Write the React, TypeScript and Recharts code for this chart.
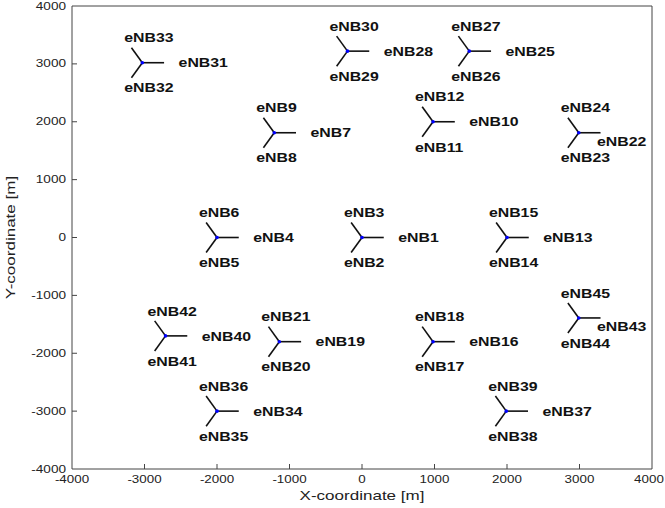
import { ScatterChart, Scatter, XAxis, YAxis, ReferenceLine } from "recharts"

// site (eNodeB) centres in metres; site k carries eNB(3k+1..3k+3)
const SITE_X = [0, -2000, -1210, 980, 2000, 980, -1140, 2990, 1480, -200, -3030, -2000, 1990, -2710, 2990]
const SITE_Y = [0, 0, 1810, 2000, 0, -1800, -1800, 1810, 3220, 3220, 3020, -3000, -3000, -1700, -1390]
// sector azimuths (deg) for the 1st, 2nd and 3rd cell of a site
const SECTOR_ANGLES = [0, 240, 120]
const TICKS = [-4000, -3000, -2000, -1000, 0, 1000, 2000, 3000, 4000]

const ARM = 300
const LABEL_R = 500
const AXIS_COLOR = "#444"
const FONT = "'Liberation Sans', Arial, sans-serif"

const rad = (d: number) => (d * Math.PI) / 180

const sites = SITE_X.map((x, i) => ({ x, y: SITE_Y[i] }))

const sectors = sites.flatMap((s, i) =>
  SECTOR_ANGLES.map((a, j) => {
    const ex = s.x + ARM * Math.cos(rad(a))
    const ey = s.y + ARM * Math.sin(rad(a))
    let lx = s.x + LABEL_R * Math.cos(rad(a))
    let ly = s.y + LABEL_R * Math.sin(rad(a))
    // labels that would run past the right edge get tucked in below the arm
    if (a === 0 && lx + 650 > 4000) {
      lx = s.x + 250
      ly = s.y - 140
    }
    return { site: s, end: { x: ex, y: ey }, label: { x: lx, y: ly, name: `eNB${i * 3 + j + 1}` } }
  })
)

const labels = sectors.map((s) => s.label)

function XTick(props: any) {
  const { x, y, payload } = props
  const edge = payload.value === -4000 || payload.value === 4000
  // the last label is pulled in a bit so it stays on the page
  const shift = payload.value === 4000 ? -3 : 0
  return (
    <g>
      {!edge && <line x1={x} x2={x} y1={y} y2={y - 5} stroke={AXIS_COLOR} />}
      <g transform={`translate(${x + shift},${y + 14}) scale(1.34,1)`}>
        <text textAnchor="middle" fontSize={10} fontFamily={FONT} fill="#222">
          {payload.value}
        </text>
      </g>
    </g>
  )
}

function YTick(props: any) {
  const { x, y, payload } = props
  const edge = payload.value === -4000 || payload.value === 4000
  return (
    <g>
      {!edge && <line x1={x} x2={x + 5} y1={y} y2={y} stroke={AXIS_COLOR} />}
      <g transform={`translate(${x - 6},${y + 3.5}) scale(1.36,1)`}>
        <text textAnchor="end" fontSize={10} fontFamily={FONT} fill="#222">
          {payload.value}
        </text>
      </g>
    </g>
  )
}

function SiteDot(props: any) {
  const { cx, cy } = props
  return <circle cx={cx} cy={cy} r={1.8} fill="#0000ff" />
}

function SectorLabel(props: any) {
  const { cx, cy, payload } = props
  return (
    <g transform={`translate(${cx},${cy}) scale(1.22,1)`}>
      <text x={0} y={0} dy="0.36em" fontSize={13} fontWeight={700} fontFamily={FONT} fill="#111">
        {payload.name}
      </text>
    </g>
  )
}

export default function App() {
  return (
    <div style={{ width: 665, height: 508, background: "#fff" }}>
      <style>{`body{margin:0}`}</style>
      <ScatterChart width={665} height={508} margin={{ top: 6, right: 13, bottom: 0, left: 0 }}>
        <XAxis
          type="number"
          dataKey="x"
          domain={[-4000, 4000]}
          ticks={TICKS}
          interval={0}
          height={39}
          tickSize={0}
          tickMargin={0}
          tickLine={false}
          axisLine={{ stroke: AXIS_COLOR }}
          tick={<XTick />}
          label={{
            content: ({ viewBox }: any) => (
              <g transform={`translate(${viewBox.x + viewBox.width / 2},${viewBox.y + 31}) scale(1.42,1)`}>
                <text textAnchor="middle" fontSize={12} fontFamily={FONT} fill="#222">
                  X-coordinate [m]
                </text>
              </g>
            ),
          }}
        />
        <YAxis
          type="number"
          dataKey="y"
          domain={[-4000, 4000]}
          ticks={TICKS}
          interval={0}
          width={72}
          tickSize={0}
          tickMargin={0}
          tickLine={false}
          axisLine={{ stroke: AXIS_COLOR }}
          tick={<YTick />}
          label={{
            content: ({ viewBox }: any) => (
              <g
                transform={`translate(${viewBox.x + 15},${viewBox.y + viewBox.height / 2}) rotate(-90) scale(1.42,1)`}
              >
                <text textAnchor="middle" fontSize={12} fontFamily={FONT} fill="#222">
                  Y-coordinate [m]
                </text>
              </g>
            ),
          }}
        />
        <ReferenceLine y={4000} stroke={AXIS_COLOR} />
        <ReferenceLine x={4000} stroke={AXIS_COLOR} />
        {sectors.map((s) => (
          <ReferenceLine
            key={s.label.name}
            segment={[
              { x: s.site.x, y: s.site.y },
              { x: s.end.x, y: s.end.y },
            ]}
            stroke="#111"
            strokeWidth={1.6}
          />
        ))}
        <Scatter data={sites} shape={<SiteDot />} isAnimationActive={false} />
        <Scatter data={labels} shape={<SectorLabel />} isAnimationActive={false} />
      </ScatterChart>
    </div>
  )
}
